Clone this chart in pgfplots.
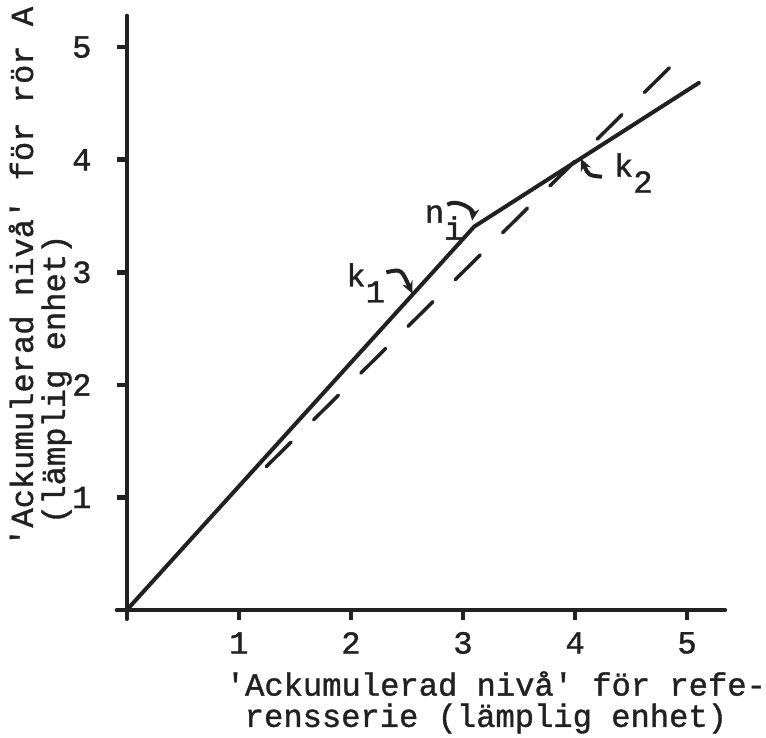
\documentclass[border=0pt]{standalone}
\usepackage{fontspec}
\setmainfont[FakeBold=1.2]{Liberation Mono}
\usepackage{pgfplots}
\pgfplotsset{compat=1.18}
\usetikzlibrary{arrows.meta}
\definecolor{ink}{gray}{0.13}
\newcommand{\tw}{\fontsize{32.2pt}{32pt}\selectfont}
\newcommand{\q}{\textquotesingle}
\begin{document}
\begin{tikzpicture}
\begin{axis}[
  x=112.25pt, y=112.75pt,
  xmin=-0.09, xmax=5.34, ymin=-0.08, ymax=5.28,
  axis lines=middle,
  axis line style={-, line width=4pt, ink, line cap=round},
  clip=false,
  xtick={1,2,3,4,5}, ytick={1,2,3,4,5},
  tick align=outside,
  major tick length=10pt,
  tick style={line width=4.5pt, ink},
  /pgf/number format/assume math mode=true,
  ticklabel style={font=\tw, text=ink, inner sep=0pt},
  xticklabel style={anchor=center, yshift=-23pt},
  yticklabel style={anchor=center, xshift=-35pt},
]
% bounding box of the reference picture
\path (axis cs:-1.1314,-1.1353) rectangle (axis cs:5.6927,5.4191);

% solid curve
\addplot[ink, line width=4pt, line join=round, line cap=round] coordinates {
  (0,0) (3.10,3.406) (5.105,4.683)
};
% dashed reference line
\addplot[ink, line width=3.5pt, line cap=round, dash pattern=on 35pt off 31.6pt] coordinates {
  (1.245,1.274) (4.861,4.836)
};

% axis labels
\node[font=\tw, text=ink, inner sep=0pt, anchor=base west] at (axis cs:0.882,-0.760) {\q Ackumulerad nivå\q{} för refe-};
\node[font=\tw, text=ink, inner sep=0pt, anchor=base west] at (axis cs:1.051,-1.038) {rensserie (lämplig enhet)};
\node[font=\tw, text=ink, inner sep=0pt, anchor=base west, rotate=90] at (axis cs:-0.837,0.559) {\q Ackumulerad nivå\q{} för rör A};
\node[font=\tw, text=ink, inner sep=0pt, anchor=base west, rotate=90] at (axis cs:-0.552,0.763) {(lämplig enhet)};

% annotations
\node[font=\tw, text=ink, inner sep=0pt, anchor=base west] at (axis cs:2.658,3.441) {n};
\node[font=\tw, text=ink, inner sep=0pt, anchor=base west] at (axis cs:2.830,3.290) {i};
\node[font=\tw, text=ink, inner sep=0pt, anchor=base west] at (axis cs:1.958,2.874) {k};
\node[font=\tw, text=ink, inner sep=0pt, anchor=base west] at (axis cs:2.130,2.732) {1};
\node[font=\tw, text=ink, inner sep=0pt, anchor=base west] at (axis cs:4.346,3.849) {k};
\node[font=\tw, text=ink, inner sep=0pt, anchor=base west] at (axis cs:4.518,3.707) {2};

\draw[ink, line width=4pt, -{Stealth[length=12pt,width=11pt]}] (axis cs:2.860,3.601) to[bend left=65] (axis cs:3.082,3.459);
\draw[ink, line width=4pt, -{Stealth[length=12pt,width=11pt]}] (axis cs:2.316,3.0) .. controls (axis cs:2.45,3.03) .. (axis cs:2.548,2.811);
\draw[ink, line width=4pt, -{Stealth[length=12pt,width=11pt]}] (axis cs:4.241,3.849) .. controls (axis cs:4.12,3.86) .. (axis cs:4.053,4.009);
\end{axis}
\end{tikzpicture}
\end{document}
